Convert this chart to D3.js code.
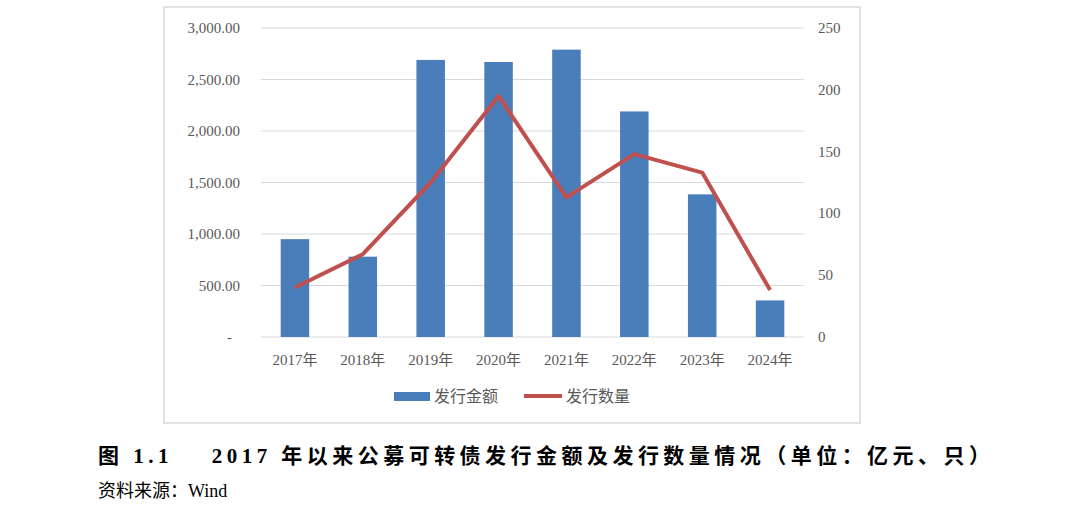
<!DOCTYPE html>
<html><head><meta charset="utf-8">
<script src="https://cdn.jsdelivr.net/npm/d3@7"></script>
<style>body{margin:0;background:#fff}text{font-family:"Liberation Serif","Noto Sans CJK SC",serif}</style>
</head><body>
<svg id="c" width="1080" height="505"></svg>
<script>
const years = ["2017年","2018年","2019年","2020年","2021年","2022年","2023年","2024年"];
const amount = [950, 780, 2690, 2670, 2790, 2190, 1385, 355];
const count = [40, 67, 125, 195, 113, 148, 133, 38];
const leftTicks = [0, 500, 1000, 1500, 2000, 2500, 3000];
const rightTicks = [0, 50, 100, 150, 200, 250];

const svg = d3.select("#c");
const L = 261, R = 804, T = 28, B = 337;

svg.append("rect").attr("x", 164).attr("y", 7).attr("width", 696).attr("height", 416)
  .attr("fill", "none").attr("stroke", "#d9d9d9").attr("stroke-width", 1.5);

const x = d3.scaleBand().domain(years).range([L, R]).paddingInner(0.58).paddingOuter(0.29);
const y = d3.scaleLinear().domain([0, 3000]).range([B, T]);
const y2 = d3.scaleLinear().domain([0, 250]).range([B, T]);

// gridlines
svg.append("g").selectAll("line").data(leftTicks).join("line")
  .attr("x1", L).attr("x2", R).attr("y1", d => y(d)).attr("y2", d => y(d))
  .attr("stroke", "#d9d9d9").attr("stroke-width", 1.2);

const fmt = d => d === 0 ? "-" : d3.format(",.2f")(d);
svg.append("g").selectAll("text").data(leftTicks).join("text")
  .attr("x", d => d === 0 ? 232 : 240).attr("y", d => y(d) + 5).attr("text-anchor", "end")
  .attr("font-size", 15).attr("fill", "#595959").text(fmt);

svg.append("g").selectAll("text").data(rightTicks).join("text")
  .attr("x", 818).attr("y", d => y2(d) + 5).attr("text-anchor", "start")
  .attr("font-size", 15).attr("fill", "#595959").text(d => d);

svg.append("g").selectAll("rect").data(amount).join("rect")
  .attr("x", (d, i) => x(years[i])).attr("width", x.bandwidth())
  .attr("y", d => y(d)).attr("height", d => B - y(d)).attr("fill", "#4a7ebb");

const line = d3.line().x((d, i) => x(years[i]) + x.bandwidth() / 2).y(d => y2(d));
svg.append("path").datum(count).attr("d", line).attr("fill", "none")
  .attr("stroke", "#c0504d").attr("stroke-width", 4).attr("stroke-linejoin", "round");

svg.append("g").selectAll("text").data(years).join("text")
  .attr("x", d => x(d) + x.bandwidth() / 2).attr("y", 365).attr("text-anchor", "middle")
  .attr("font-size", 15).attr("fill", "#595959").text(d => d);

// legend
svg.append("rect").attr("x", 394).attr("y", 392).attr("width", 36).attr("height", 9).attr("fill", "#4a7ebb");
svg.append("text").attr("x", 434).attr("y", 402).attr("font-size", 16).attr("fill", "#595959").text("发行金额");
svg.append("line").attr("x1", 524).attr("x2", 562).attr("y1", 396).attr("y2", 396)
  .attr("stroke", "#c0504d").attr("stroke-width", 4);
svg.append("text").attr("x", 566).attr("y", 402).attr("font-size", 16).attr("fill", "#595959").text("发行数量");

svg.append("text").attr("x", 98).attr("y", 463).attr("font-size", 21).attr("font-weight", "bold")
  .attr("fill", "#000").attr("xml:space", "preserve").attr("textLength", 892)
  .text("图 1.1    2017 年以来公募可转债发行金额及发行数量情况（单位：亿元、只）");
svg.append("text").attr("x", 98).attr("y", 497).attr("font-size", 18).attr("fill", "#000")
  .text("资料来源：Wind");
</script>
</body></html>
